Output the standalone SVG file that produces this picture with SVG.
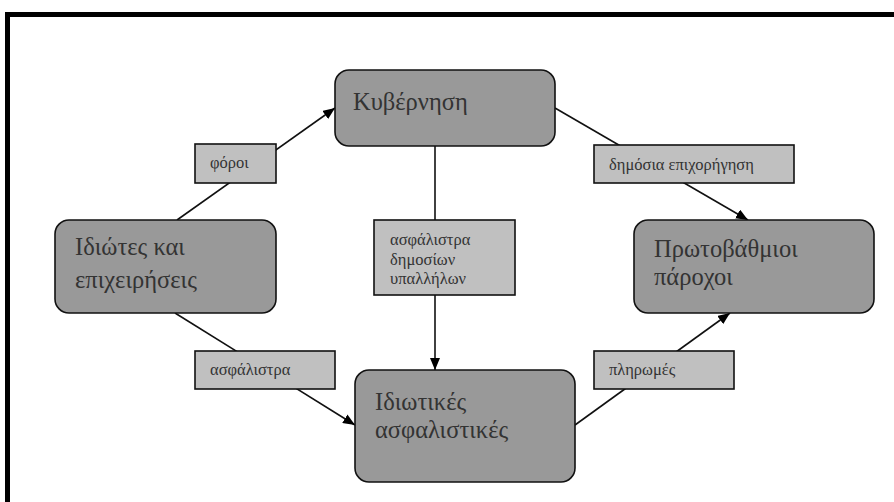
<svg xmlns="http://www.w3.org/2000/svg" width="894" height="502" viewBox="0 0 894 502">
  <style>
    .node rect { fill: #999999; stroke: #111111; stroke-width: 1.6; }
    .node text { font-family: "Liberation Serif", "DejaVu Serif", serif; font-size: 24.5px; fill: #333333; }
    .label rect { fill: #c0c0c0; stroke: #111111; stroke-width: 1.6; }
    .label text { font-family: "Liberation Serif", "DejaVu Serif", serif; font-size: 16.5px; fill: #333333; }
    .edge { stroke: #111111; stroke-width: 1.6; fill: none; }
  </style>
  <defs>
    <marker id="arrow" viewBox="0 0 12 10" refX="12" refY="5" markerWidth="12" markerHeight="10" markerUnits="userSpaceOnUse" orient="auto">
      <path d="M0,0 L12,5 L0,10 Z" fill="#000000"/>
    </marker>
  </defs>

  <!-- frame -->
  <path d="M7.5,502 V14.5 H894" fill="none" stroke="#000000" stroke-width="5"/>

  <!-- connectors -->
  <g id="connectors">
    <line class="edge" x1="177" y1="220" x2="335" y2="108" marker-end="url(#arrow)"/>
    <line class="edge" x1="555" y1="108" x2="748" y2="220" marker-end="url(#arrow)"/>
    <line class="edge" x1="435" y1="146" x2="435" y2="370" marker-end="url(#arrow)"/>
    <line class="edge" x1="175" y1="313" x2="355" y2="425" marker-end="url(#arrow)"/>
    <line class="edge" x1="575" y1="425" x2="730" y2="313" marker-end="url(#arrow)"/>
  </g>

  <!-- edge labels -->
  <g id="label-foroi" class="label">
    <rect x="195" y="144" width="81" height="39"/>
    <text x="210" y="168">φόροι</text>
  </g>
  <g id="label-epixorigisi" class="label">
    <rect x="594" y="145" width="200" height="38"/>
    <text x="609" y="170">δημόσια επιχορήγηση</text>
  </g>
  <g id="label-asfalistra-dimosion" class="label">
    <rect x="374" y="220" width="141" height="75"/>
    <text x="390" y="245">ασφάλιστρα</text>
    <text x="390" y="265">δημοσίων</text>
    <text x="390" y="284">υπαλλήλων</text>
  </g>
  <g id="label-asfalistra" class="label">
    <rect x="195" y="351" width="140" height="38"/>
    <text x="210" y="375">ασφάλιστρα</text>
  </g>
  <g id="label-pliromes" class="label">
    <rect x="594" y="351" width="140" height="38"/>
    <text x="609" y="375">πληρωμές</text>
  </g>

  <!-- nodes -->
  <g id="node-kyvernisi" class="node">
    <rect x="335" y="70" width="220" height="76" rx="14"/>
    <text x="353" y="110">Κυβέρνηση</text>
  </g>
  <g id="node-idiotes" class="node">
    <rect x="55" y="220" width="221" height="93" rx="14"/>
    <text x="75" y="255">Ιδιώτες και</text>
    <text x="75" y="288">επιχειρήσεις</text>
  </g>
  <g id="node-protovathmioi" class="node">
    <rect x="634" y="220" width="240" height="93" rx="14"/>
    <text x="654" y="257">Πρωτοβάθμιοι</text>
    <text x="654" y="285">πάροχοι</text>
  </g>
  <g id="node-idiotikes" class="node">
    <rect x="355" y="370" width="220" height="112" rx="14"/>
    <text x="375" y="410">Ιδιωτικές</text>
    <text x="375" y="438">ασφαλιστικές</text>
  </g>
</svg>
